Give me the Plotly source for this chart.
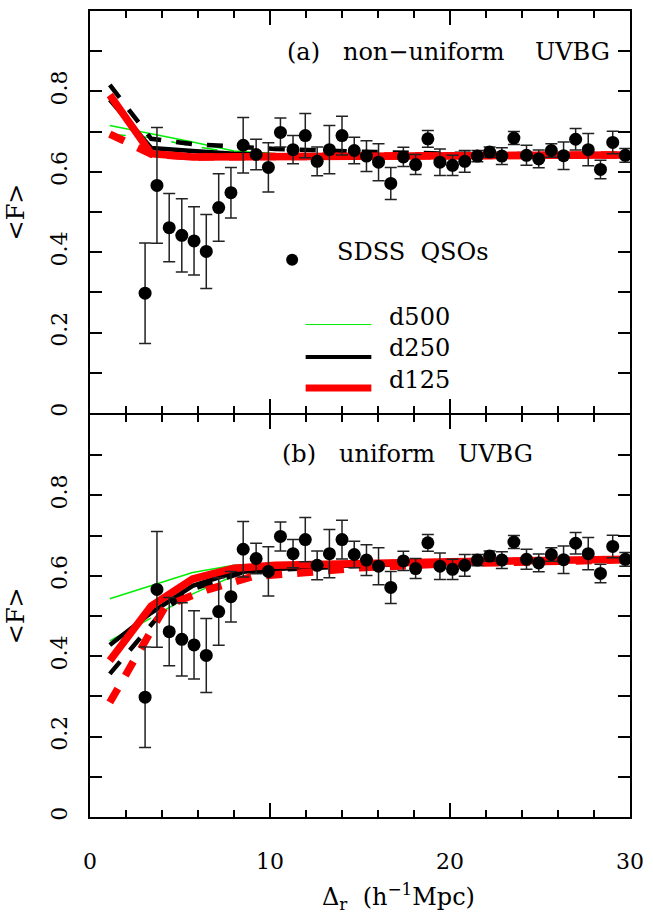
import plotly.graph_objects as go
from plotly.subplots import make_subplots

# ---------------- data ----------------
sep = [3.06, 3.72, 4.40, 5.10, 5.78, 6.46, 7.15, 7.83, 8.51, 9.23,
       9.91, 10.58, 11.28, 11.96, 12.62, 13.30, 14.00, 14.68, 15.36, 16.03,
       16.71, 17.41, 18.09, 18.77, 19.44, 20.14, 20.82, 21.52, 22.20, 22.88,
       23.55, 24.25, 24.93, 25.63, 26.31, 26.98, 27.68, 28.36, 29.04, 29.74]
flux = [0.298, 0.566, 0.461, 0.442, 0.428, 0.402, 0.511, 0.548, 0.666, 0.643,
        0.611, 0.698, 0.655, 0.690, 0.626, 0.655, 0.690, 0.653, 0.639, 0.624,
        0.571, 0.637, 0.618, 0.682, 0.624, 0.616, 0.626, 0.639, 0.649, 0.639,
        0.684, 0.641, 0.632, 0.653, 0.640, 0.681, 0.655, 0.606, 0.673, 0.641]
flux_err = [0.125, 0.144, 0.085, 0.091, 0.085, 0.092, 0.084, 0.063, 0.069, 0.038,
            0.061, 0.036, 0.035, 0.055, 0.036, 0.060, 0.048, 0.033, 0.038, 0.046,
            0.040, 0.024, 0.025, 0.021, 0.033, 0.025, 0.027, 0.014, 0.013, 0.021,
            0.016, 0.025, 0.022, 0.017, 0.034, 0.027, 0.040, 0.023, 0.028, 0.017]

model_x = [1.1, 3.4, 5.7, 8.0, 10.3, 15.0, 20.0, 25.0, 29.9]

# (a) non-uniform UVBG
a_d500_solid = [0.715, 0.695, 0.674, 0.652, 0.645, 0.643, 0.641, 0.642, 0.642]
a_d500_dash = [0.694, 0.685, 0.664, 0.648, 0.644, 0.641, 0.640, 0.641, 0.641]
a_d250_solid = [0.779, 0.659, 0.652, 0.645, 0.641, 0.638, 0.638, 0.640, 0.640]
a_d250_dash = [0.816, 0.682, 0.669, 0.662, 0.657, 0.650, 0.645, 0.644, 0.643]
a_d125_solid = [0.791, 0.645, 0.637, 0.637, 0.638, 0.639, 0.640, 0.641, 0.642]
a_d125_dash = [0.694, 0.644, 0.637, 0.637, 0.638, 0.639, 0.640, 0.641, 0.642]

# (b) uniform UVBG
b_d500_solid = [0.543, 0.576, 0.608, 0.626, 0.630, 0.634, 0.636, 0.639, 0.641]
b_d500_dash = [0.438, 0.495, 0.555, 0.600, 0.615, 0.625, 0.632, 0.637, 0.640]
b_d250_solid = [0.428, 0.508, 0.575, 0.608, 0.617, 0.627, 0.633, 0.637, 0.640]
b_d250_dash_x = [1.1, 4.1, 5.9, 8.4, 10.5, 15.0, 20.0, 25.0, 29.9]
b_d250_dash = [0.356, 0.515, 0.570, 0.607, 0.615, 0.625, 0.632, 0.637, 0.640]
b_d125_solid = [0.389, 0.525, 0.592, 0.619, 0.626, 0.632, 0.635, 0.638, 0.641]
b_d125_dash_x = [1.1, 4.2, 6.5, 9.0, 12.0, 15.0, 20.0, 25.0, 29.9]
b_d125_dash = [0.285, 0.525, 0.565, 0.598, 0.608, 0.620, 0.630, 0.636, 0.640]

x_ticks = [0, 10, 20, 30]
y_ticks = [0, 0.2, 0.4, 0.6, 0.8]
y_ticktext = ["0", "0.2", "0.4", "0.6", "0.8"]

panel_labels = ["(a)\u00a0\u00a0\u00a0non\u2212uniform\u00a0\u00a0\u00a0\u00a0UVBG",
                "(b)\u00a0\u00a0\u00a0uniform\u00a0\u00a0\u00a0UVBG"]
legend_names = ["d500", "d250", "d125"]

# ---------------- styles ----------------
GREEN, BLACK, RED = "#00ee00", "#000000", "#ff0000"
W = {"d500": 1.5, "d250": 4.5, "d125": 7.5}
COL = {"d500": GREEN, "d250": BLACK, "d125": RED}
DASH = "16px,15px"
FONT = "DejaVu Serif"

fig = make_subplots(rows=2, cols=1, shared_xaxes=True, vertical_spacing=0)

panels = [
    (1, [("d500", model_x, a_d500_dash, DASH), ("d500", model_x, a_d500_solid, "solid"),
         ("d250", model_x, a_d250_dash, DASH), ("d250", model_x, a_d250_solid, "solid"),
         ("d125", model_x, a_d125_dash, DASH), ("d125", model_x, a_d125_solid, "solid")]),
    (2, [("d500", model_x, b_d500_dash, DASH), ("d500", model_x, b_d500_solid, "solid"),
         ("d250", b_d250_dash_x, b_d250_dash, DASH), ("d250", model_x, b_d250_solid, "solid"),
         ("d125", b_d125_dash_x, b_d125_dash, DASH), ("d125", model_x, b_d125_solid, "solid")]),
]

for row, lines in panels:
    for name, xs, ys, dash in lines:
        fig.add_trace(go.Scatter(x=xs, y=ys, mode="lines", showlegend=False,
                                 line=dict(color=COL[name], width=W[name], dash=dash)),
                      row=row, col=1)
    fig.add_trace(go.Scatter(x=sep, y=flux, mode="markers", showlegend=False,
                             marker=dict(color="black", size=13),
                             error_y=dict(type="data", array=flux_err, thickness=1.5,
                                          width=6, color="#222222")),
                  row=row, col=1)

axis_common = dict(showline=True, linewidth=2, linecolor="black", mirror="ticks",
                   ticks="inside", tickcolor="black", tickwidth=1.5,
                   showgrid=False, zeroline=False,
                   tickfont=dict(family=FONT, size=22, color="black"))

for r in (1, 2):
    fig.update_xaxes(range=[0, 30], tickmode="array", tickvals=x_ticks, ticklen=14,
                     minor=dict(tickmode="linear", tick0=0, dtick=2, ticks="inside",
                                ticklen=7, tickwidth=1.5, tickcolor="black"),
                     showticklabels=(r == 2), ticklabelstandoff=24,
                     row=r, col=1, **axis_common)
    fig.update_yaxes(range=[0, 1], tickmode="array", tickvals=y_ticks, ticktext=y_ticktext,
                     ticklen=12, tickangle=-90, ticklabelstandoff=12,
                     minor=dict(tickmode="linear", tick0=0, dtick=0.1, ticks="inside",
                                ticklen=12, tickwidth=1.5, tickcolor="black"),
                     row=r, col=1, **axis_common)

# shared middle frame line: make both axis lines fall on the same pixels
fig.update_yaxes(domain=[0.5 + 1.0 / 808, 1.0], row=1, col=1)
fig.update_yaxes(domain=[0.0, 0.5 - 1.0 / 808], row=2, col=1)

tf = dict(family=FONT, size=24, color="black")
ann = [
    dict(text=panel_labels[0], x=0.663, y=0.949, xref="paper", yref="paper",
         xanchor="center", yanchor="middle", showarrow=False, font=tf),
    dict(text=panel_labels[1], x=0.588, y=0.4505, xref="paper", yref="paper",
         xanchor="center", yanchor="middle", showarrow=False, font=tf),
    dict(text="&lt;F&gt;", x=-0.1376, y=0.751, xref="paper", yref="paper", textangle=-90,
         xanchor="center", yanchor="middle", showarrow=False, font=tf),
    dict(text="&lt;F&gt;", x=-0.1376, y=0.25, xref="paper", yref="paper", textangle=-90,
         xanchor="center", yanchor="middle", showarrow=False, font=tf),
    dict(text="\u0394<sub>r</sub>\u00a0\u00a0(h<sup>\u22121</sup>Mpc)", x=0.572, y=-0.099,
         xref="paper", yref="paper", xanchor="center", yanchor="middle",
         showarrow=False, font=tf),
    # legend texts (top panel, data coordinates)
    dict(text="SDSS\u00a0\u00a0QSOs", x=13.6, y=0.401, xref="x", yref="y",
         xanchor="left", yanchor="middle", showarrow=False, font=tf),
]
leg_y_line = [0.22, 0.139, 0.062]
leg_y_text = [0.240, 0.161, 0.082]
shapes = [dict(type="circle", xref="x", yref="y", xsizemode="pixel", ysizemode="pixel",
               xanchor=11.23, yanchor=0.381, x0=-6, x1=6, y0=-6, y1=6,
               fillcolor="black", line=dict(color="black", width=0))]
for name, yl, yt in zip(legend_names, leg_y_line, leg_y_text):
    shapes.append(dict(type="line", xref="x", yref="y", x0=11.98, x1=15.63, y0=yl, y1=yl,
                       line=dict(color=COL[name], width=W[name] - 0.5)))
    ann.append(dict(text=name, x=16.5, y=yt, xref="x", yref="y", xanchor="left",
                    yanchor="middle", showarrow=False, font=tf))

fig.update_layout(width=653, height=919, margin=dict(l=90, r=18, t=9, b=102),
                  paper_bgcolor="white", plot_bgcolor="white",
                  annotations=ann, shapes=shapes, showlegend=False)

fig.write_html("out.html")
